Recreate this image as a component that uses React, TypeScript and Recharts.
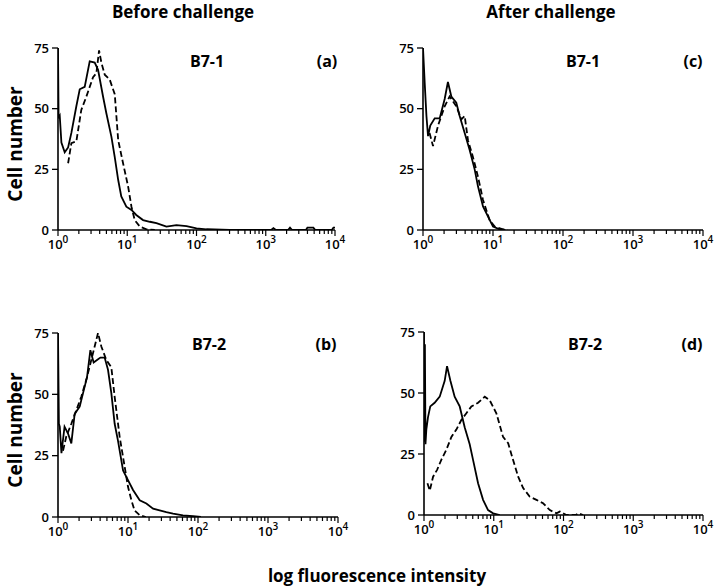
import React from 'react';
import { LineChart, Line, XAxis, YAxis } from 'recharts';

type Pt = [number, number];

// (a) B7-1, before challenge
const aSolid: Pt[] = [
  [1, 75], [1.02, 46], [1.06, 47], [1.12, 36], [1.25, 32], [1.4, 34], [1.56, 40], [1.84, 51],
  [2.06, 58], [2.43, 59], [2.87, 69.5], [3.39, 69], [3.79, 66], [4.47, 55], [5.0, 48], [5.9, 38.5],
  [6.6, 30], [7.4, 20.6], [8.2, 13.8], [9.7, 9.6], [11.5, 8.3], [13.5, 6.2], [16.9, 4.1], [21.2, 3.4],
  [26.4, 2.8], [36.8, 1.4], [51.3, 2], [71.8, 1.6], [100, 0.7], [139, 0.3], [300, 0], [1200, 0],
  [1290, 0.8], [1400, 0], [2100, 0], [2240, 1], [2400, 0], [3800, 0], [4000, 1], [4870, 1],
  [5200, 0], [9000, 0], [9500, 1], [10000, 1],
];
const aDashed: Pt[] = [
  [1.4, 27.5], [1.56, 35.8], [1.84, 36.5], [2.17, 49.5], [2.57, 55], [3.21, 63], [3.58, 64.6],
  [3.92, 74], [4.23, 69], [4.73, 64], [5.58, 62], [6.6, 56], [7.4, 37], [8.7, 27.5], [10.3, 17.9],
  [11.5, 9.6], [12.8, 4.1], [15.2, 1.4], [18.9, 0.3], [25, 0],
];

// (b) B7-2, before challenge
const bSolid: Pt[] = [
  [1, 75], [1.03, 38], [1.06, 36.8], [1.12, 26], [1.24, 36.8], [1.39, 34], [1.55, 30], [1.73, 42],
  [2.04, 45], [2.28, 50.5], [2.6, 57], [2.9, 68], [3.23, 63], [3.61, 64], [4.03, 65], [4.64, 65],
  [5.18, 60], [5.78, 50.5], [6.45, 38], [7.2, 31], [8.5, 19], [10, 15], [11.8, 11], [14.7, 6.8],
  [18.3, 5.5], [22.8, 3.4], [28.3, 2.7], [35.3, 2], [44, 1.4], [61, 0.7], [85, 0.3], [110, 0],
];
const bDashed: Pt[] = [
  [1.18, 27], [1.31, 32.7], [1.55, 38], [1.83, 43.6], [2.15, 49], [2.54, 56], [2.99, 64], [3.34, 69.5],
  [3.73, 75], [4.16, 69.5], [4.9, 64], [5.78, 61], [6.45, 49], [7.6, 32.7], [8.96, 20.5], [10, 12.3],
  [11.2, 6.8], [12.4, 2.7], [14.7, 0.7], [18, 0],
];

// (c) B7-1, after challenge
const cSolid: Pt[] = [
  [1, 75], [1.06, 60], [1.12, 47], [1.18, 38.7], [1.27, 43], [1.47, 46], [1.73, 46], [2.04, 54],
  [2.27, 61], [2.54, 55], [2.99, 52.5], [3.34, 47], [3.94, 40], [4.64, 33], [5.47, 25], [6.1, 18],
  [7.2, 9.7], [8.5, 5.5], [10, 1.4], [12.4, 0.3], [15, 0],
];
const cDashed: Pt[] = [
  [1.24, 40], [1.39, 34.6], [1.64, 43], [2.04, 51], [2.4, 55], [2.99, 51], [3.53, 45.6], [3.94, 47],
  [4.39, 37], [5.18, 30], [6.1, 22], [7.2, 12.4], [8.96, 4], [10.6, 1.4], [13.9, 0.3], [16, 0],
];

// (d) B7-2, after challenge
const dSolid: Pt[] = [
  [1, 75], [1.02, 30], [1.03, 70], [1.05, 29], [1.08, 35], [1.14, 40], [1.23, 44.5], [1.42, 46],
  [1.68, 48.5], [1.98, 55], [2.14, 61], [2.39, 55], [2.75, 48.5], [3.25, 44.5], [3.83, 36], [4.52, 29],
  [5.05, 22.6], [5.96, 13], [7.03, 6.2], [8.29, 2], [9.8, 0.7], [12.2, 0],
];
const dDashed: Pt[] = [
  [1.12, 13], [1.21, 10], [1.35, 15.7], [1.54, 18.5], [1.77, 22.6], [2.09, 26.7], [2.47, 32], [2.91, 35],
  [3.44, 39], [4.05, 41.7], [4.78, 44.5], [5.96, 46], [7.43, 48.5], [8.76, 47], [10.9, 41.7], [13.6, 32],
  [16.1, 29.4], [18.9, 22.6], [22.4, 15.7], [26.4, 11], [32.9, 7.5], [41, 6.2], [51, 4.8], [63.7, 2],
  [79.4, 0.7], [88.5, 1.4], [110, 0], [150, 0], [162, 0.7], [191, 0],
];

const yTicks = [0, 25, 50, 75];
const decades = [1, 10, 100, 1000, 10000];
const xTicks: number[] = [];
decades.forEach((d, i) => {
  xTicks.push(d);
  if (i < decades.length - 1) for (let k = 2; k <= 9; k++) xTicks.push(d * k);
});

const FONT = "'Open Sans', 'DejaVu Sans', sans-serif";

const toRows = (pts: Pt[]) => pts.map(([x, y]) => ({ x, y }));

const LogTick = (props: any) => {
  const { x, y, payload } = props;
  const lg = Math.log10(payload.value);
  const exp = Math.round(lg);
  const major = Math.abs(lg - exp) < 1e-6;
  return (
    <g>
      <line x1={x} x2={x} y1={y} y2={y + (major ? 6 : 4)} stroke="#000" strokeWidth={1.2} />
      {major && (
        <text x={x} y={y + 19} textAnchor="middle" fontSize={13} fontWeight={600} fontFamily={FONT} fill="#000">
          10<tspan dy={-6} fontSize={10}>{exp}</tspan>
        </text>
      )}
    </g>
  );
};

const Panel: React.FC<{
  left: number; top: number; plotW: number; plotH: number;
  solid: Pt[]; dashed: Pt[];
}> = ({ left, top, plotW, plotH, solid, dashed }) => {
  const yW = 40, mt = 10, mr = 20, xH = 30;
  return (
    <div style={{ position: 'absolute', left: left - yW, top: top - mt }}>
      <LineChart width={yW + plotW + mr} height={mt + plotH + xH} margin={{ top: mt, right: mr, left: 0, bottom: 0 }}>
        <XAxis
          type="number"
          dataKey="x"
          scale="log"
          domain={[1, 10000]}
          allowDataOverflow
          ticks={xTicks}
          interval={0}
          tick={<LogTick />}
          tickSize={0}
          tickMargin={0}
          tickLine={false}
          axisLine={{ stroke: '#000', strokeWidth: 1.6 }}
          height={xH}
        />
        <YAxis
          type="number"
          domain={[0, 75]}
          ticks={yTicks}
          allowDataOverflow
          width={yW}
          tickSize={6}
          tickMargin={3}
          tickLine={{ stroke: '#000', strokeWidth: 1.3 }}
          axisLine={{ stroke: '#000', strokeWidth: 1.6 }}
          tick={{ fontSize: 13, fontWeight: 600, fontFamily: FONT, fill: '#000' }}
        />
        <Line data={toRows(dashed)} dataKey="y" type="linear" stroke="#000" strokeWidth={1.8}
          strokeDasharray="6 3" dot={false} isAnimationActive={false} />
        <Line data={toRows(solid)} dataKey="y" type="linear" stroke="#000" strokeWidth={1.8}
          dot={false} isAnimationActive={false} />
      </LineChart>
    </div>
  );
};

const Label: React.FC<{ x: number; y: number; size?: number; children: React.ReactNode }> = ({ x, y, size = 16, children }) => (
  <div style={{
    position: 'absolute', left: x, top: y, transform: 'translate(-50%, -50%)', whiteSpace: 'nowrap',
    fontFamily: FONT, fontWeight: 700, fontSize: size, color: '#000', lineHeight: 1,
  }}>{children}</div>
);

const VLabel: React.FC<{ x: number; y: number; children: React.ReactNode }> = ({ x, y, children }) => (
  <div style={{
    position: 'absolute', left: x, top: y, transform: 'translate(-50%, -50%) rotate(-90deg)', whiteSpace: 'nowrap',
    fontFamily: FONT, fontWeight: 700, fontSize: 19, color: '#000', lineHeight: 1,
  }}>{children}</div>
);

export default function App() {
  return (
    <div style={{ position: 'absolute', left: 0, top: 0, width: 720, height: 588, background: '#fff', overflow: 'hidden' }}>
      <Label x={183} y={11} size={17}>Before challenge</Label>
      <Label x={551} y={11} size={17}>After challenge</Label>

      <Panel left={58} top={48} plotW={277} plotH={182} solid={aSolid} dashed={aDashed} />
      <Panel left={423} top={48} plotW={280} plotH={182} solid={cSolid} dashed={cDashed} />
      <Panel left={58} top={333} plotW={280} plotH={184} solid={bSolid} dashed={bDashed} />
      <Panel left={424} top={332} plotW={279} plotH={183} solid={dSolid} dashed={dDashed} />

      <Label x={207} y={61}>B7-1</Label>
      <Label x={327} y={61}>(a)</Label>
      <Label x={583} y={61}>B7-1</Label>
      <Label x={693} y={61}>(c)</Label>
      <Label x={209} y={344}>B7-2</Label>
      <Label x={326} y={344}>(b)</Label>
      <Label x={585} y={344}>B7-2</Label>
      <Label x={692} y={344}>(d)</Label>

      <VLabel x={15} y={144}>Cell number</VLabel>
      <VLabel x={15} y={430}>Cell number</VLabel>

      <Label x={377} y={575} size={17}>log fluorescence intensity</Label>
    </div>
  );
}
